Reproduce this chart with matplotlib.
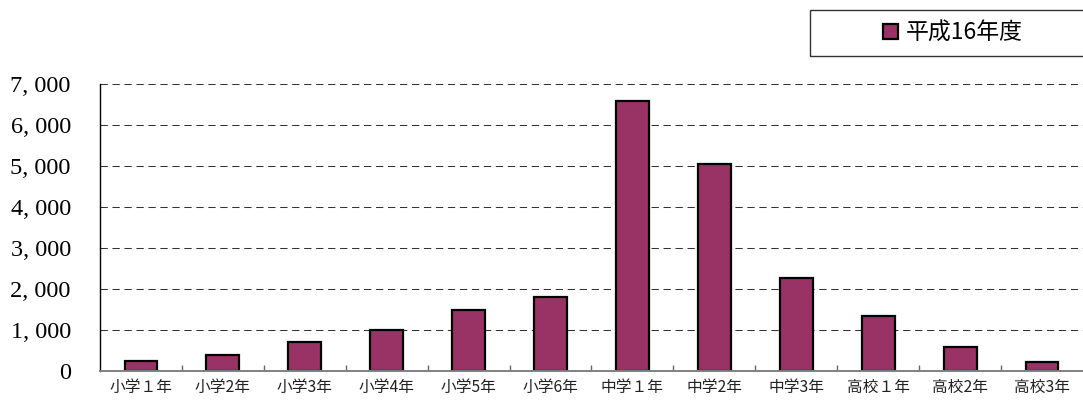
import matplotlib
matplotlib.use("Agg")
import matplotlib.pyplot as plt
from matplotlib.patches import Rectangle
from matplotlib.ticker import FixedLocator

grades = ["小学１年", "小学2年", "小学3年", "小学4年", "小学5年", "小学6年",
          "中学１年", "中学2年", "中学3年", "高校１年", "高校2年", "高校3年"]
counts = [240, 390, 700, 1000, 1490, 1800, 6600, 5060, 2270, 1350, 590, 210]
series_name = "平成16年度"
ytick_vals = [0, 1000, 2000, 3000, 4000, 5000, 6000, 7000]
ytick_text = ["0", "1, 000", "2, 000", "3, 000", "4, 000", "5, 000", "6, 000", "7, 000"]

cjk = ["Noto Sans CJK JP", "DejaVu Sans"]

fig = plt.figure(figsize=(10.83, 4.01), dpi=100)
ax = fig.add_axes([0.0923, 0.0748, 0.9077, 0.715])

x = list(range(len(grades)))
bars = ax.bar(x, counts, width=0.4, color="#993366", edgecolor="black",
              linewidth=1.6, label=series_name, zorder=3)

ax.set_xlim(-0.5, len(grades) - 0.5)
ax.set_ylim(0, 7000)

ax.set_yticks(ytick_vals)
ax.set_yticklabels(ytick_text, family="Liberation Serif", fontsize=17.5)
ax.tick_params(axis="y", length=0, pad=21)

ax.set_xticks(x)
ax.set_xticklabels(grades, family=cjk, fontsize=11.3, color="#222222")
ax.tick_params(axis="x", which="major", length=0, pad=6)
ax.xaxis.set_minor_locator(FixedLocator([i + 0.5 for i in range(len(grades) - 1)]))
ax.tick_params(axis="x", which="minor", direction="in", length=4,
               color="#666666", width=1)

ax.yaxis.grid(True, color="#333333", linewidth=0.75, dashes=(7, 4.5), zorder=0)
ax.set_axisbelow(True)

for side in ["top", "right"]:
    ax.spines[side].set_visible(False)
ax.spines["left"].set_color("black")
ax.spines["left"].set_linewidth(1.0)
ax.spines["bottom"].set_color("#808080")
ax.spines["bottom"].set_linewidth(1.4)
ax.spines["bottom"].set_zorder(4)

# legend box at top right
fig.patches.append(Rectangle((810 / 1083, 1 - 56 / 401), 0.3, 46 / 401,
                             transform=fig.transFigure, fill=False,
                             edgecolor="#333333", linewidth=1.0))
fig.legend(handles=[bars], labels=[series_name], loc="center",
           bbox_to_anchor=(953 / 1083, 1 - 33 / 401), frameon=False,
           prop={"family": cjk, "size": 16.5},
           handlelength=0.65, handleheight=0.65, handletextpad=0.35)

fig.savefig("out.png", dpi=100)
